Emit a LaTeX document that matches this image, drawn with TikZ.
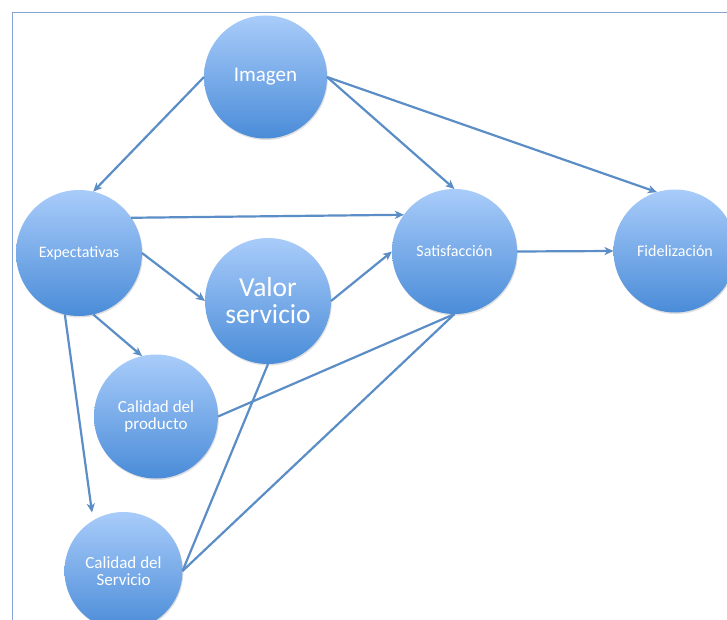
\documentclass[tikz,border=0pt]{standalone}
\usepackage{fontspec}
\setmainfont{Carlito}
\usetikzlibrary{arrows.meta,shadows}
\definecolor{topc}{HTML}{A9CCFA}
\definecolor{botc}{HTML}{4A8CD8}
\definecolor{linec}{HTML}{5B8DC6}
\definecolor{framec}{HTML}{86A3D6}
\begin{document}
\begin{tikzpicture}[x=1pt,y=-1pt,
  bub/.style={circle, inner sep=0pt, outer sep=0pt, top color=topc, bottom color=botc,
    draw=none, text=white, align=center,
    drop shadow={opacity=0.25, shadow xshift=0.8pt, shadow yshift=-1.5pt}},
  con/.style={draw=linec, line width=2.2pt},
  arr/.style={con, -{Stealth[length=9pt,width=8pt,inset=2.5pt]}}]
\useasboundingbox (0,0) rectangle (727,620);
\clip (0,0) rectangle (727,620);
\fill[white] (0,0) rectangle (727,620);
\draw[framec, line width=1pt] (727,12.5) -- (12.5,12.5) -- (12.5,620);

\node[bub, minimum size=123pt, font=\fontsize{21}{25}\selectfont] (img) at (265.5,77) {Imagen};
\node[bub, minimum size=126pt, font=\fontsize{16}{19}\selectfont] (exp) at (79,253) {Expectativas};
\node[bub, minimum size=126pt, font=\fontsize{27.5}{27}\selectfont] (val) at (268,301) {Valor\\servicio};
\node[bub, minimum size=125pt, font=\fontsize{16}{19}\selectfont] (sat) at (454.5,251.5) {Satisfacción};
\node[bub, minimum size=123pt, font=\fontsize{16}{19}\selectfont] (fid) at (675,251) {Fidelización};
\node[bub, minimum size=124pt, font=\fontsize{17}{17.5}\selectfont] (prod) at (156,416.5) {Calidad del\\producto};
\node[bub, minimum size=118pt, font=\fontsize{17}{17.5}\selectfont] (serv) at (123.5,571) {Calidad del\\Servicio};

\draw[arr] (img.west) -- (exp.77);
\draw[arr] (img.east) -- (sat.north);
\draw[arr] (img.east) -- (fid.107);
\draw[arr] (exp.34) -- (sat.144);
\draw[arr] (exp.east) -- (val.west);
\draw[arr] (exp.-77) -- (prod.103);
\draw[arr, shorten >=8pt] (exp.-103) -- (serv.121);
\draw[arr] (val.east) -- (sat.west);
\draw[arr] (sat.east) -- (fid.west);
\draw[con] (prod.east) -- (sat.south);
\draw[con] (serv.east) -- (sat.south);
\draw[con] (serv.east) -- (val.south);
\end{tikzpicture}
\end{document}
